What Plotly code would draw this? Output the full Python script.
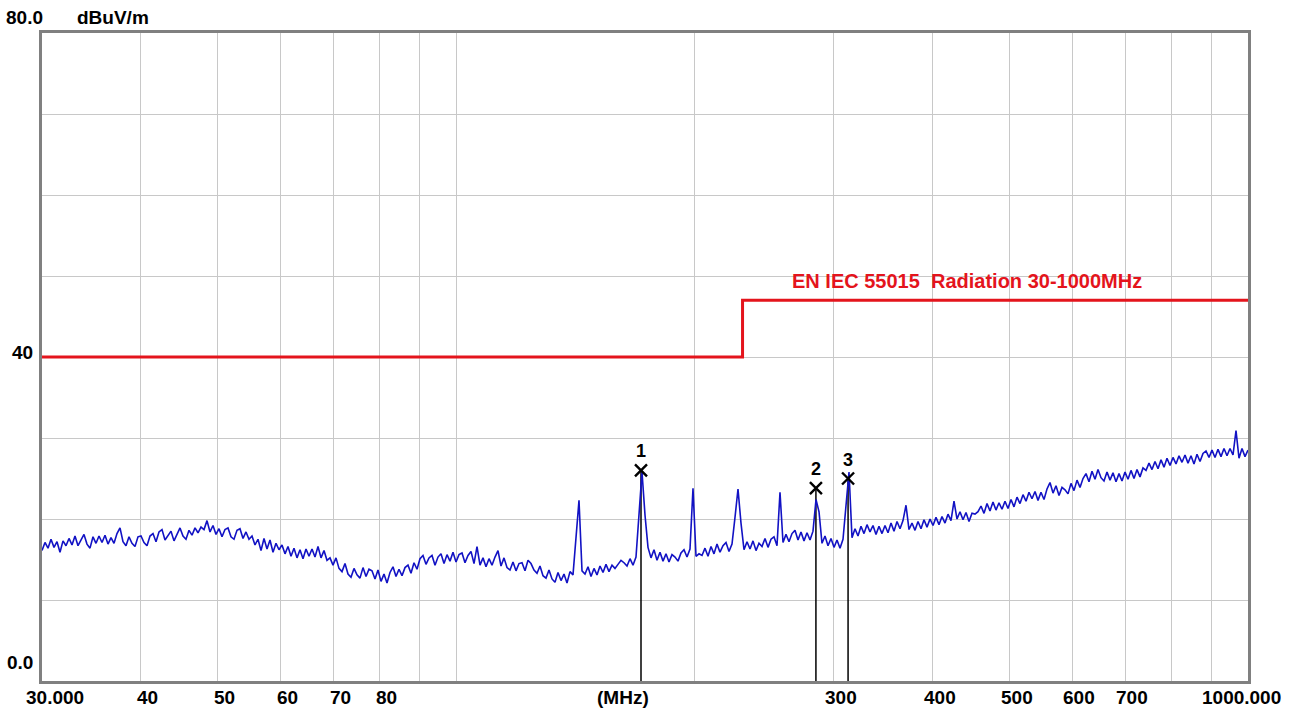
import math
import numpy as np
import plotly.graph_objects as go

# ---- measured spectrum (peak detector), dBuV/m, on a log-spaced sweep 30-1000 MHz ----
level_dbuv = [
    16.1, 17.1, 16.4, 17.5, 16.5, 17.2, 15.9, 17.3, 16.7, 17.6,
    16.8, 17.9, 16.7, 17.5, 18.1, 16.9, 16.4, 17.8, 17.0, 17.9,
    17.1, 18.0, 16.9, 17.7, 17.0, 18.2, 18.9, 17.2, 16.7, 17.8,
    17.0, 16.6, 17.8, 17.9, 17.1, 16.7, 17.9, 18.2, 17.2, 18.4,
    18.7, 17.4, 18.0, 18.5, 17.3, 18.2, 18.9, 17.9, 17.5, 18.6,
    18.0, 18.9, 18.3, 19.0, 18.7, 19.8, 18.4, 19.2, 18.1, 18.8,
    17.8, 18.7, 18.9, 17.8, 17.5, 18.6, 18.8, 17.6, 18.4, 17.5,
    17.9, 16.8, 17.5, 16.1, 17.6, 16.3, 17.4, 15.9, 17.0, 16.2,
    16.8, 15.7, 16.6, 15.4, 16.4, 15.2, 16.2, 15.1, 16.3, 15.4,
    16.3, 15.3, 16.6, 15.2, 16.1, 14.9, 15.2, 14.3, 15.2, 13.9,
    13.5, 14.5, 13.2, 12.8, 13.9, 13.1, 12.7, 14.0, 12.9, 13.8,
    13.6, 12.6, 13.7, 12.3, 13.2, 12.1, 13.4, 14.1, 12.9, 13.8,
    13.0, 14.0, 14.3, 13.3, 14.6, 13.8, 15.1, 15.5, 14.4, 15.2,
    15.5, 14.3, 15.3, 15.7, 14.5, 15.6, 14.8, 15.9, 14.7, 15.6,
    15.8, 14.6, 15.5, 16.0, 14.5, 16.6, 14.3, 15.2, 14.1, 15.1,
    14.3, 15.3, 16.1, 14.2, 15.2, 14.0, 13.7, 14.7, 13.6, 14.5,
    14.6, 13.6, 14.9, 14.5, 13.7, 13.3, 14.2, 13.0, 12.7, 13.7,
    12.6, 12.2, 13.4, 12.4, 13.2, 12.1, 13.5, 13.1, 17.7, 22.3,
    13.6, 13.2, 14.1, 12.9, 13.9, 13.1, 14.2, 13.4, 14.4, 13.5,
    14.3, 13.9, 14.4, 14.9, 14.6, 14.2, 15.1, 14.3, 15.3, 20.9,
    25.8, 20.5, 16.5, 15.2, 16.2, 14.9, 15.9, 14.8, 15.7, 14.7,
    15.6, 15.3, 14.8, 15.8, 16.2, 15.3, 16.3, 23.8, 15.4, 15.7,
    15.5, 16.4, 15.4, 16.6, 15.7, 16.9, 15.9, 16.7, 17.1, 16.0,
    16.9, 20.2, 23.7, 19.5, 16.2, 17.2, 16.3, 17.3, 16.1, 17.0,
    16.6, 17.6, 16.5, 17.5, 17.8, 16.7, 23.3, 17.1, 18.1, 17.2,
    18.2, 18.6, 17.4, 18.4, 17.3, 18.3, 17.4, 18.5, 22.4, 20.9,
    17.0, 17.9, 16.7, 17.6, 16.5, 17.4, 16.4, 17.5, 21.5, 25.8,
    17.7, 18.8, 17.9, 19.1, 18.2, 19.3, 18.4, 19.2, 18.1, 19.1,
    18.2, 19.2, 18.3, 19.5, 18.5, 19.7, 18.8, 19.8, 21.7, 18.7,
    19.5, 18.6, 19.7, 18.8, 19.9, 19.0, 20.0, 19.2, 20.2, 19.3,
    20.3, 19.5, 20.6, 19.8, 22.2, 20.0, 20.9, 19.9, 20.8, 19.7,
    20.7, 20.6, 20.9, 21.6, 20.7, 21.9, 21.0, 22.1, 21.1, 22.0,
    21.2, 22.2, 21.3, 22.4, 21.5, 22.7, 21.9, 23.0, 22.2, 23.3,
    22.5, 23.4, 22.3, 23.3, 22.4, 23.7, 24.5, 23.2, 24.1, 22.9,
    23.9, 23.6, 23.1, 24.4, 23.5, 24.8, 23.9, 25.0, 25.6, 24.6,
    25.9, 24.9, 26.1, 25.1, 24.7, 25.8, 24.8, 25.7, 24.6, 25.6,
    24.7, 25.8, 24.9, 26.0, 25.0, 26.1, 25.2, 26.3, 26.0, 26.9,
    26.1, 27.1, 26.2, 27.3, 26.4, 27.5, 26.6, 27.6, 26.8, 27.8,
    27.0, 27.9, 26.9, 27.8, 26.8, 28.0, 27.1, 28.1, 28.4, 27.6,
    28.5, 27.6, 28.6, 27.7, 28.7, 27.8, 28.7, 27.9, 30.9, 27.5,
    28.7, 27.7, 28.5,
]
sweep_mhz = np.geomspace(30.0, 1000.0, len(level_dbuv))

# ---- limit line: EN IEC 55015 radiated, 30-1000 MHz ----
limit_mhz = [30, 230, 230, 1000]
limit_dbuv = [40, 40, 47, 47]
limit_name = "EN IEC 55015\u00a0\u00a0Radiation 30-1000MHz"

# ---- peak markers ----
marker_ids = ["1", "2", "3"]
marker_mhz = [171.2, 284.7, 312.6]
marker_dbuv = [26.0, 23.8, 25.0]

# ---- axis grid and labels ----
x_grid_mhz = [40, 50, 60, 70, 80, 90, 100, 200, 300, 400, 500, 600, 700, 800, 900]
y_grid_dbuv = [10, 20, 30, 40, 50, 60, 70]
x_label_mhz = [40, 50, 60, 70, 80, 300, 400, 500, 600, 700]
x_label_text = ["40", "50", "60", "70", "80", "300", "400", "500", "600", "700"]

FONT = "Liberation Sans, Arial, sans-serif"
GRID = "#c8c8c8"
FRAME = "#808080"
RED = "#e4141c"
BLUE = "#1212c4"

fig = go.Figure()

# marker stems from the floor up to each marker level
for f, lv in zip(marker_mhz, marker_dbuv):
    fig.add_trace(go.Scatter(x=[f, f], y=[0, lv], mode="lines",
                             line=dict(color="black", width=1.5),
                             hoverinfo="skip", showlegend=False))

fig.add_trace(go.Scatter(x=sweep_mhz, y=level_dbuv, mode="lines",
                         line=dict(color=BLUE, width=1.6),
                         name="Peak", showlegend=False))

fig.add_trace(go.Scatter(x=limit_mhz, y=limit_dbuv, mode="lines",
                         line=dict(color=RED, width=3),
                         name=limit_name, showlegend=False))

fig.add_trace(go.Scatter(x=marker_mhz, y=marker_dbuv, mode="markers+text",
                         marker=dict(symbol="x-thin", size=12,
                                     line=dict(width=2.4, color="black")),
                         text=[f"<b>{m}</b>" for m in marker_ids],
                         textposition="top center",
                         textfont=dict(family=FONT, size=18, color="black"),
                         showlegend=False))

fig.update_xaxes(type="log", range=[math.log10(30), math.log10(1000)],
                 tickvals=x_grid_mhz, showticklabels=False, ticks="",
                 showgrid=True, gridcolor=GRID, gridwidth=1,
                 showline=True, linecolor=FRAME, linewidth=2.5, mirror=True,
                 zeroline=False)
fig.update_yaxes(range=[0, 80], tickvals=y_grid_dbuv, showticklabels=False,
                 ticks="", showgrid=True, gridcolor=GRID, gridwidth=1,
                 showline=True, linecolor=FRAME, linewidth=2.5, mirror=True,
                 zeroline=False)

lab_font = dict(family=FONT, size=19, color="black")
ann = []
# frequency labels under the axis
for f, t in zip(x_label_mhz, x_label_text):
    ann.append(dict(x=math.log10(f), y=0, xref="x", yref="paper", text=f"<b>{t}</b>",
                    showarrow=False, xanchor="center", yanchor="top",
                    xshift=7, yshift=-4, font=lab_font))
ann.append(dict(x=math.log10(30), y=0, xref="x", yref="paper", text="<b>30.000</b>",
                showarrow=False, xanchor="center", yanchor="top",
                xshift=13, yshift=-4, font=lab_font))
ann.append(dict(x=math.log10(1000), y=0, xref="x", yref="paper", text="<b>1000.000</b>",
                showarrow=False, xanchor="center", yanchor="top",
                xshift=-7, yshift=-4, font=lab_font))
ann.append(dict(x=0.4818, y=0, xref="paper", yref="paper", text="<b>(MHz)</b>",
                showarrow=False, xanchor="center", yanchor="top",
                yshift=-4, font=lab_font))
# level labels
ann.append(dict(x=0, y=80, xref="paper", yref="y", text="<b>80.0</b>",
                showarrow=False, xanchor="right", yanchor="middle",
                xshift=3, yshift=16, font=lab_font))
ann.append(dict(x=0, y=80, xref="paper", yref="y", text="<b>dBuV/m</b>",
                showarrow=False, xanchor="left", yanchor="middle",
                xshift=33, yshift=16, font=lab_font))
ann.append(dict(x=0, y=40, xref="paper", yref="y", text="<b>40</b>",
                showarrow=False, xanchor="right", yanchor="middle",
                xshift=-7, yshift=5, font=lab_font))
ann.append(dict(x=0, y=0, xref="paper", yref="y", text="<b>0.0</b>",
                showarrow=False, xanchor="right", yanchor="middle",
                xshift=-7, yshift=19, font=lab_font))
# limit line caption
ann.append(dict(x=math.log10(442), y=47, xref="x", yref="y", text=f"<b>{limit_name}</b>",
                showarrow=False, xanchor="center", yanchor="bottom", yshift=6,
                font=dict(family=FONT, size=20, color=RED)))

fig.update_layout(width=1295, height=709,
                  margin=dict(l=42, r=47, t=33, b=28),
                  paper_bgcolor="white", plot_bgcolor="white",
                  annotations=ann, showlegend=False)

fig.write_html("out.html")
